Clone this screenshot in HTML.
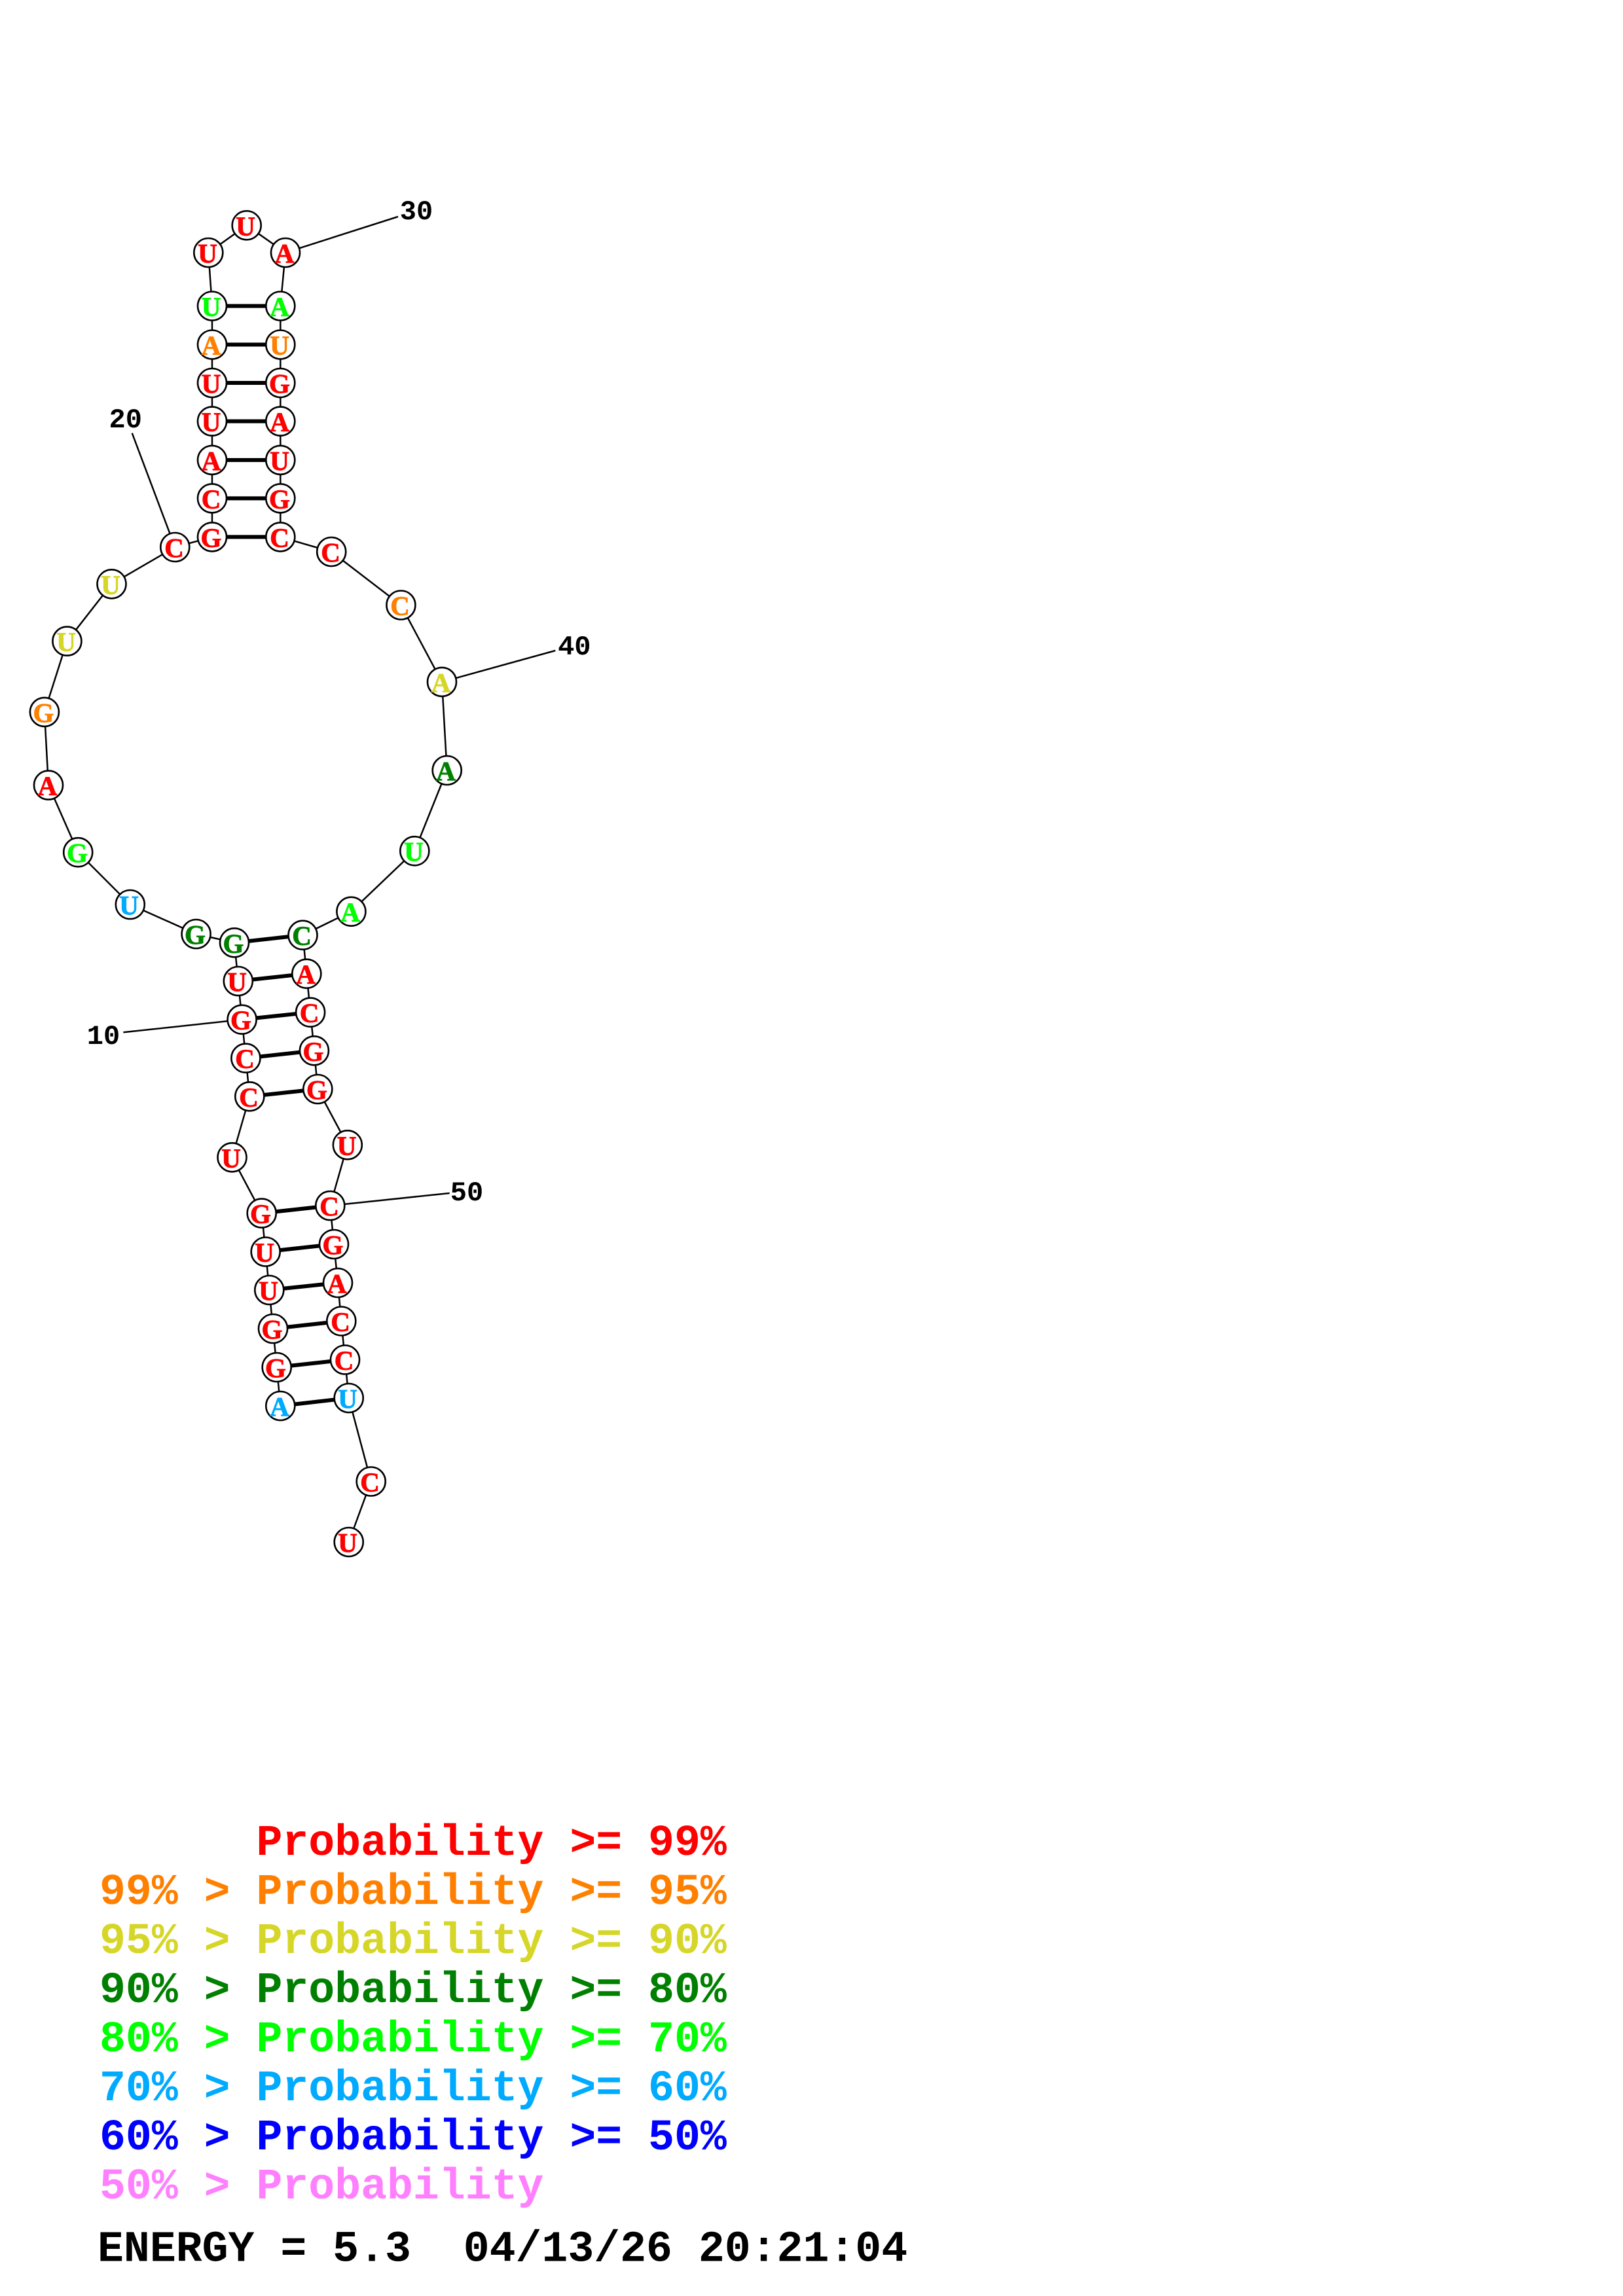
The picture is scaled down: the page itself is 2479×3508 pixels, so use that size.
<!DOCTYPE html>
<html><head><meta charset="utf-8"><style>
html,body{margin:0;padding:0;background:#fff}
svg{display:block}
.n text{font:bold 41px "Liberation Serif",serif;text-anchor:middle;stroke-width:.9}
.l{font:bold 42px "Liberation Mono",monospace;text-anchor:middle;fill:#000}
.t{font:bold 66.5px "Liberation Mono",monospace;white-space:pre}
.r{fill:#f00;stroke:#f00}.o{fill:#ff8000;stroke:#ff8000}.y{fill:#d6d629;stroke:#d6d629}.d{fill:#008000;stroke:#008000}.g{fill:#0f0;stroke:#0f0}.b{fill:#0af;stroke:#0af}.u{fill:#00f;stroke:#00f}.p{fill:#ff80ff;stroke:#ff80ff}
.t.r,.t.o,.t.y,.t.d,.t.g,.t.b,.t.u,.t.p{stroke:none}
</style></head><body>
<svg xmlns="http://www.w3.org/2000/svg" width="2479" height="3508" viewBox="0 0 2479 3508">
<rect width="2479" height="3508" fill="#fff"/>
<polyline fill="none" stroke="#000" stroke-width="2.5" points="428.3,2148 422.7,2089 417,2030 411.3,1971 405.7,1912.5 399.7,1853.6 354.5,1768.3 381.3,1675.3 375.4,1616.7 369.6,1557.7 363.8,1499 358,1440.3 299.6,1427 198.8,1382 119.2,1302.2 74,1199.6 67.9,1087.9 102.4,979.6 170.5,892.3 267.3,836 324,820.4 324,761.4 324,702.9 324,643.6 324,585 324,526.5 324,467.5 318.3,386 376.7,344.3 436,386 428.3,467.5 428.3,526.5 428.3,585 428.3,643.6 428.3,702.9 428.3,761.4 428.3,820.4 506.2,843 612.4,924.5 675,1041.9 682.7,1177 633.3,1300.2 536.4,1392.7 462.5,1428.7 468.3,1487.7 474.1,1546.7 479.9,1605.3 485.3,1664 530.8,1749.3 504.3,1842.1 510,1901 516,1960 521.3,2018.5 527,2077.5 532.7,2136 566.7,2263.5 532.7,2356"/>
<g fill="none" stroke="#000" stroke-width="2.5">
<line x1="436" y1="386" x2="608" y2="331"/>
<line x1="267.3" y1="836" x2="201.7" y2="661.7"/>
<line x1="675" y1="1041.9" x2="848.3" y2="994"/>
<line x1="369.6" y1="1557.7" x2="188.4" y2="1577.3"/>
<line x1="504.3" y1="1842.1" x2="686.7" y2="1823"/>
</g>
<g fill="none" stroke="#000" stroke-width="6">
<line x1="324" y1="467.5" x2="428.3" y2="467.5"/>
<line x1="324" y1="526.5" x2="428.3" y2="526.5"/>
<line x1="324" y1="585" x2="428.3" y2="585"/>
<line x1="324" y1="643.6" x2="428.3" y2="643.6"/>
<line x1="324" y1="702.9" x2="428.3" y2="702.9"/>
<line x1="324" y1="761.4" x2="428.3" y2="761.4"/>
<line x1="324" y1="820.4" x2="428.3" y2="820.4"/>
<line x1="358" y1="1440.3" x2="462.5" y2="1428.7"/>
<line x1="363.8" y1="1499" x2="468.3" y2="1487.7"/>
<line x1="369.6" y1="1557.7" x2="474.1" y2="1546.7"/>
<line x1="375.4" y1="1616.7" x2="479.9" y2="1605.3"/>
<line x1="381.3" y1="1675.3" x2="485.3" y2="1664"/>
<line x1="399.7" y1="1853.6" x2="504.3" y2="1842.1"/>
<line x1="405.7" y1="1912.5" x2="510" y2="1901"/>
<line x1="411.3" y1="1971" x2="516" y2="1960"/>
<line x1="417" y1="2030" x2="521.3" y2="2018.5"/>
<line x1="422.7" y1="2089" x2="527" y2="2077.5"/>
<line x1="428.3" y1="2148" x2="532.7" y2="2136"/>
</g>
<g fill="#fff" stroke="#000" stroke-width="2.6">
<circle cx="428.3" cy="2148" r="22"/><circle cx="422.7" cy="2089" r="22"/><circle cx="417" cy="2030" r="22"/><circle cx="411.3" cy="1971" r="22"/><circle cx="405.7" cy="1912.5" r="22"/><circle cx="399.7" cy="1853.6" r="22"/><circle cx="354.5" cy="1768.3" r="22"/><circle cx="381.3" cy="1675.3" r="22"/><circle cx="375.4" cy="1616.7" r="22"/><circle cx="369.6" cy="1557.7" r="22"/><circle cx="363.8" cy="1499" r="22"/><circle cx="358" cy="1440.3" r="22"/><circle cx="299.6" cy="1427" r="22"/><circle cx="198.8" cy="1382" r="22"/><circle cx="119.2" cy="1302.2" r="22"/><circle cx="74" cy="1199.6" r="22"/><circle cx="67.9" cy="1087.9" r="22"/><circle cx="102.4" cy="979.6" r="22"/><circle cx="170.5" cy="892.3" r="22"/><circle cx="267.3" cy="836" r="22"/><circle cx="324" cy="820.4" r="22"/><circle cx="324" cy="761.4" r="22"/><circle cx="324" cy="702.9" r="22"/><circle cx="324" cy="643.6" r="22"/><circle cx="324" cy="585" r="22"/><circle cx="324" cy="526.5" r="22"/><circle cx="324" cy="467.5" r="22"/><circle cx="318.3" cy="386" r="22"/><circle cx="376.7" cy="344.3" r="22"/><circle cx="436" cy="386" r="22"/><circle cx="428.3" cy="467.5" r="22"/><circle cx="428.3" cy="526.5" r="22"/><circle cx="428.3" cy="585" r="22"/><circle cx="428.3" cy="643.6" r="22"/><circle cx="428.3" cy="702.9" r="22"/><circle cx="428.3" cy="761.4" r="22"/><circle cx="428.3" cy="820.4" r="22"/><circle cx="506.2" cy="843" r="22"/><circle cx="612.4" cy="924.5" r="22"/><circle cx="675" cy="1041.9" r="22"/><circle cx="682.7" cy="1177" r="22"/><circle cx="633.3" cy="1300.2" r="22"/><circle cx="536.4" cy="1392.7" r="22"/><circle cx="462.5" cy="1428.7" r="22"/><circle cx="468.3" cy="1487.7" r="22"/><circle cx="474.1" cy="1546.7" r="22"/><circle cx="479.9" cy="1605.3" r="22"/><circle cx="485.3" cy="1664" r="22"/><circle cx="530.8" cy="1749.3" r="22"/><circle cx="504.3" cy="1842.1" r="22"/><circle cx="510" cy="1901" r="22"/><circle cx="516" cy="1960" r="22"/><circle cx="521.3" cy="2018.5" r="22"/><circle cx="527" cy="2077.5" r="22"/><circle cx="532.7" cy="2136" r="22"/><circle cx="566.7" cy="2263.5" r="22"/><circle cx="532.7" cy="2356" r="22"/>
</g>
<g class="n">
<text x="427" y="2163" class="b">A</text><text x="421" y="2104" class="r">G</text><text x="415.5" y="2045" class="r">G</text><text x="410" y="1986" class="r">U</text><text x="404" y="1927.5" class="r">U</text><text x="398" y="1868.6" class="r">G</text><text x="353" y="1783.3" class="r">U</text><text x="380" y="1690.3" class="r">C</text><text x="374" y="1631.7" class="r">C</text><text x="368" y="1572.7" class="r">G</text><text x="362" y="1514" class="r">U</text><text x="356.5" y="1455.3" class="d">G</text><text x="298" y="1442" class="d">G</text><text x="197" y="1397" class="b">U</text><text x="118" y="1317.2" class="g">G</text><text x="72.5" y="1214.6" class="r">A</text><text x="66.5" y="1102.9" class="o">G</text><text x="101" y="994.6" class="y">U</text><text x="169" y="907.3" class="y">U</text><text x="266" y="851" class="r">C</text>
<text x="322.5" y="835.4" class="r">G</text><text x="322.5" y="776.4" class="r">C</text><text x="322.5" y="717.9" class="r">A</text><text x="322.5" y="658.6" class="r">U</text><text x="322.5" y="600" class="r">U</text><text x="322.5" y="541.5" class="o">A</text><text x="322.5" y="482.5" class="g">U</text><text x="317" y="401" class="r">U</text><text x="375" y="359.3" class="r">U</text><text x="434.5" y="401" class="r">A</text>
<text x="427" y="482.5" class="g">A</text><text x="427" y="541.5" class="o">U</text><text x="427" y="600" class="r">G</text><text x="427" y="658.6" class="r">A</text><text x="427" y="717.9" class="r">U</text><text x="427" y="776.4" class="r">G</text><text x="427" y="835.4" class="r">C</text><text x="505" y="858" class="r">C</text><text x="611" y="939.5" class="o">C</text><text x="673.5" y="1056.9" class="y">A</text>
<text x="681" y="1192" class="d">A</text><text x="632" y="1315.2" class="g">U</text><text x="535" y="1407.7" class="g">A</text><text x="461" y="1443.7" class="d">C</text><text x="467" y="1502.7" class="r">A</text><text x="472.5" y="1561.7" class="r">C</text><text x="478.5" y="1620.3" class="r">G</text><text x="484" y="1679" class="r">G</text><text x="529.5" y="1764.3" class="r">U</text><text x="503" y="1857.1" class="r">C</text>
<text x="508.5" y="1916" class="r">G</text><text x="514.5" y="1975" class="r">A</text><text x="520" y="2033.5" class="r">C</text><text x="525.5" y="2092.5" class="r">C</text><text x="531" y="2151" class="b">U</text><text x="565" y="2278.5" class="r">C</text><text x="531" y="2371" class="r">U</text>
</g>
<text class="l" x="191.7" y="653">20</text>
<text class="l" x="636" y="335">30</text>
<text class="l" x="877.3" y="1000">40</text>
<text class="l" x="158" y="1595">10</text>
<text class="l" x="713" y="1834">50</text>
<text class="t r" x="152" y="2834">      Probability &gt;= 99%</text>
<text class="t o" x="152" y="2909">99% &gt; Probability &gt;= 95%</text>
<text class="t y" x="152" y="2984">95% &gt; Probability &gt;= 90%</text>
<text class="t d" x="152" y="3059">90% &gt; Probability &gt;= 80%</text>
<text class="t g" x="152" y="3134">80% &gt; Probability &gt;= 70%</text>
<text class="t b" x="152" y="3209">70% &gt; Probability &gt;= 60%</text>
<text class="t u" x="152" y="3284">60% &gt; Probability &gt;= 50%</text>
<text class="t p" x="152" y="3359">50% &gt; Probability</text>
<text class="t" x="149" y="3454.5" fill="#000">ENERGY = 5.3  04/13/26 20:21:04</text>
</svg>
</body></html>
